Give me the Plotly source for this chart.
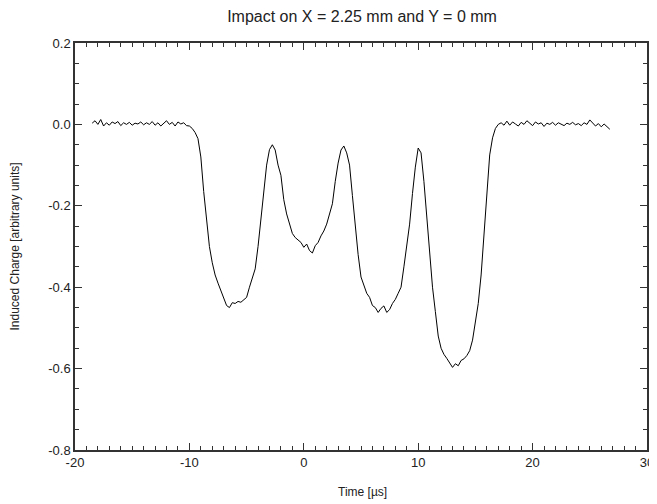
import numpy as np
import plotly.graph_objects as go

# Sampling grid (µs) and induced charge
time_us = np.round(np.arange(-18.5, 26.76, 0.25), 2)
charge = [
    0.003, 0.009,
    0.0, 0.012, -0.004, 0.004, -0.002, 0.006, 0.002, 0.007,          # -18
    -0.003, 0.004, 0.0, 0.005, -0.002, 0.003, 0.001, 0.006,          # -16
    -0.001, 0.004, 0.0, 0.007, -0.002, 0.004, -0.004, 0.002,         # -14
    0.009, 0.0, 0.005, -0.004, 0.006, 0.001, 0.004, -0.003,          # -12
    -0.004, -0.01, -0.02, -0.035, -0.08, -0.165, -0.235, -0.30,      # -10
    -0.34, -0.37, -0.39, -0.41, -0.43, -0.445, -0.45, -0.438,        # -8
    -0.44, -0.435, -0.437, -0.43, -0.425, -0.40, -0.375, -0.355,     # -6
    -0.30, -0.235, -0.16, -0.10, -0.062, -0.05, -0.063, -0.10,       # -4
    -0.125, -0.185, -0.22, -0.245, -0.268, -0.278, -0.285, -0.29,    # -2
    -0.302, -0.294, -0.31, -0.316, -0.298, -0.29, -0.274, -0.262,    # 0
    -0.245, -0.222, -0.195, -0.14, -0.095, -0.063, -0.053, -0.07,    # 2
    -0.10, -0.175, -0.25, -0.32, -0.375, -0.395, -0.415, -0.425,     # 4
    -0.445, -0.45, -0.462, -0.452, -0.446, -0.462, -0.455, -0.44,    # 6
    -0.43, -0.415, -0.40, -0.35, -0.30, -0.245, -0.17, -0.105,       # 8
    -0.058, -0.07, -0.14, -0.23, -0.315, -0.40, -0.46, -0.52,        # 10
    -0.55, -0.565, -0.575, -0.585, -0.597, -0.588, -0.593, -0.58,    # 12
    -0.576, -0.568, -0.556, -0.53, -0.49, -0.44, -0.37, -0.27,       # 14
    -0.155, -0.075, -0.033, -0.01, 0.0, 0.004, -0.002, 0.008,        # 16
    -0.002, 0.006, 0.001, -0.004, 0.005, 0.0, 0.009, 0.002,          # 18
    -0.003, 0.006, 0.001, 0.004, -0.005, 0.003, 0.0, 0.005,          # 20
    -0.002, 0.004, 0.001, -0.003, 0.003, 0.0, 0.005, -0.001,         # 22
    0.002, -0.003, 0.004, 0.0, 0.011, 0.003, -0.004, 0.002,          # 24
    -0.006, 0.001, -0.005, -0.012,                                   # 26
]

x_tick_vals = [-20, -10, 0, 10, 20, 30]
x_tick_text = ["-20", "-10", "0", "10", "20", "30"]
y_tick_vals = [0.2, 0.0, -0.2, -0.4, -0.6, -0.8]
y_tick_text = ["0.2", "0.0", "-0.2", "-0.4", "-0.6", "-0.8"]

font_family = "Liberation Sans, Arial, sans-serif"
text_color = "#222222"

fig = go.Figure()
fig.add_trace(go.Scatter(
    x=time_us[:len(charge)], y=charge, mode="lines",
    line=dict(color="black", width=1), showlegend=False,
))

axis_common = dict(
    showline=True, linecolor="#333333", linewidth=1.5, mirror="allticks",
    ticks="inside", ticklen=7, tickwidth=1, tickcolor="#333333",
    showgrid=False, zeroline=False, automargin=False,
    tickfont=dict(family=font_family, size=13, color=text_color),
)

# The page body adds an 8 px offset, so the figure is 8 px smaller than the window.
fig.update_layout(
    width=649, height=496,
    paper_bgcolor="white", plot_bgcolor="white",
    margin=dict(l=67, r=10, t=35, b=54, autoexpand=False),
    title=dict(text="Impact on X = 2.25 mm and Y = 0 mm", x=0.5455, xanchor="center",
               xref="container", y=0.984, yanchor="middle", yref="container",
               font=dict(family=font_family, size=16, color=text_color)),
    xaxis=dict(range=[-20, 30], tickvals=x_tick_vals, ticktext=x_tick_text,
               minor=dict(dtick=1, ticks="inside", ticklen=4, tickcolor="#333333"),
               **axis_common),
    yaxis=dict(range=[-0.8, 0.2], tickvals=y_tick_vals, ticktext=y_tick_text,
               minor=dict(dtick=0.05, ticks="inside", ticklen=4, tickcolor="#333333"),
               **axis_common),
    annotations=[
        dict(text="Time [µs]", xref="paper", yref="paper", x=0.502, y=-0.103,
             xanchor="center", yanchor="middle", showarrow=False,
             font=dict(family=font_family, size=12, color=text_color)),
        dict(text="Induced Charge [arbitrary units]", xref="paper", yref="paper",
             x=-0.1049, y=0.5, xanchor="center", yanchor="middle", textangle=-90,
             showarrow=False,
             font=dict(family=font_family, size=12, color=text_color)),
    ],
)

fig.write_html("out.html")
